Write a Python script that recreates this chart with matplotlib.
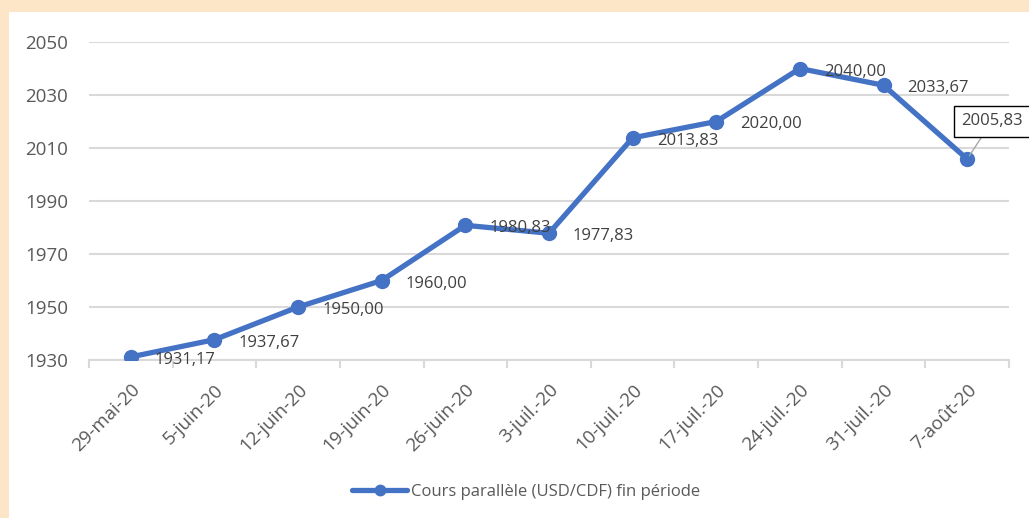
import matplotlib.pyplot as plt
from matplotlib.patches import Rectangle

dates = ["29-mai-20", "5-juin-20", "12-juin-20", "19-juin-20", "26-juin-20",
         "3-juil.-20", "10-juil.-20", "17-juil.-20", "24-juil.-20", "31-juil.-20",
         "7-août-20"]
rates = [1931.17, 1937.67, 1950.00, 1960.00, 1980.83, 1977.83,
         2013.83, 2020.00, 2040.00, 2033.67, 2005.83]
y_ticks = [1930, 1950, 1970, 1990, 2010, 2030, 2050]
series_name = "Cours parallèle (USD/CDF) fin période"

BLUE = "#4472C4"
GRID = "#D9D9D9"
PEACH = "#FDE6C8"

plt.rcParams["font.family"] = ["Open Sans", "DejaVu Sans"]

W, H = 1029, 518
fig = plt.figure(figsize=(W / 100, H / 100), dpi=100)
fig.patch.set_facecolor(PEACH)
fig.patches.append(Rectangle((9 / W, 0), 1, 1 - 12 / H, transform=fig.transFigure,
                             facecolor="white", edgecolor="none", zorder=-10))

ax = fig.add_axes([89 / W, 1 - 360 / H, (1009 - 89) / W, (360 - 42) / H])
ax.set_facecolor("none")

x = list(range(len(dates)))
ax.plot(x, rates, color=BLUE, lw=3.8, marker="o", ms=10, solid_capstyle="round",
        label=series_name, zorder=3)

ax.set_xlim(-0.5, len(dates) - 0.5)
ax.set_ylim(y_ticks[0], y_ticks[-1])
ax.set_yticks(y_ticks)
ax.yaxis.grid(True, color=GRID, lw=1.5)
ax.set_axisbelow(True)

for s in ["top", "right", "left"]:
    ax.spines[s].set_visible(False)
ax.spines["bottom"].set_color(GRID)
ax.spines["bottom"].set_linewidth(1.5)

ax.set_xticks(x)
ax.set_xticklabels(dates, rotation=45, ha="right", rotation_mode="anchor")
ax.set_xticks([i - 0.5 for i in range(len(dates) + 1)], minor=True)
ax.tick_params(axis="x", which="major", length=0, pad=15, labelsize=13.5, labelcolor="#595959")
ax.tick_params(axis="x", which="minor", length=6, width=1.5, color=GRID, direction="out")
ax.tick_params(axis="y", length=0, pad=15, labelsize=13.5, labelcolor="#595959")

for i, v in enumerate(rates):
    lab = f"{v:.2f}".replace(".", ",")
    if i == len(rates) - 1:
        ax.annotate(lab, (i, v), xytext=(25, 38), textcoords="offset pixels",
                    ha="center", va="center", fontsize=12, color="#404040",
                    bbox=dict(boxstyle="square,pad=0.45", fc="white", ec="black", lw=1),
                    arrowprops=dict(arrowstyle="-", color="#A6A6A6", lw=1, shrinkA=0, shrinkB=3),
                    zorder=5)
    else:
        ax.annotate(lab, (i, v), xytext=(24, -3), textcoords="offset pixels",
                    ha="left", va="center", fontsize=12, color="#404040", zorder=5)

fig.legend(loc="center", bbox_to_anchor=(526 / W, 1 - 492 / H), frameon=False,
           fontsize=12, labelcolor="#595959", handlelength=3.3, handletextpad=0.2,
           markerscale=0.75)

fig.savefig("out.png", dpi=100, facecolor=fig.get_facecolor())
